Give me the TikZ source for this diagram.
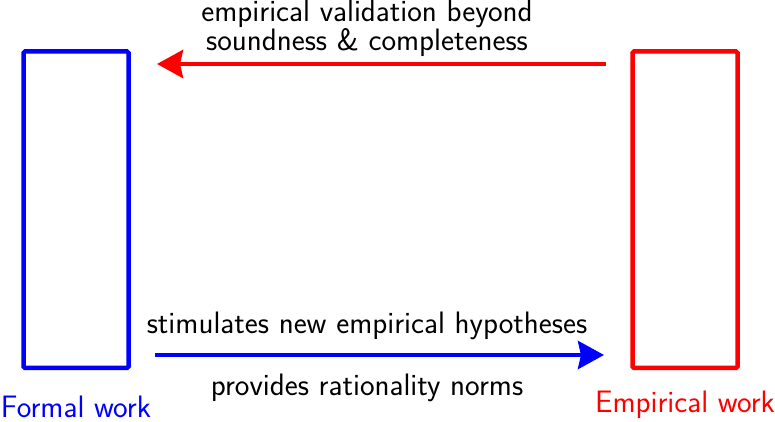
\documentclass[tikz,border=0pt]{standalone}
\usepackage{tikz}
\usetikzlibrary{arrows.meta}
\tikzset{
  workbox/.style = {rectangle, line width=4.5pt, rounded corners=1.5pt, outer sep=0pt,
                    minimum width=105pt, minimum height=316.5pt},
  flow/.style    = {line width=4.5pt, -{Stealth[length=26pt, width=28pt, inset=3pt]},
                    shorten <=26.5pt, shorten >=28.5pt},
  lbl/.style     = {font=\fontsize{31}{25}\selectfont\sffamily, align=center, inner sep=0pt},
}

\begin{document}
\begin{tikzpicture}[x=1pt, y=1pt]
    \useasboundingbox (0,0) rectangle (775,422);

    % ── The two kinds of work ───────────────────────────────────
    \node[workbox, draw=blue] (formal)    at (76, 212.25)  {};
    \node[workbox, draw=red]  (empirical) at (685, 212.25) {};

    \node[lbl, text=blue] (formallbl)    at (76, 15)  {Formal work};
    \node[lbl, text=red]  (empiricallbl) at (685, 17) {Empirical work};

    % ── Edges ───────────────────────────────────────────────────
    \draw[flow, red]  (empirical.west |- 0,358) -- (formal.east |- 0,358);
    \draw[flow, blue] (formal.east |- 0,67) -- (empirical.west |- 0,67);

    \node[lbl] (validation) at (367, 394) {empirical validation beyond\\soundness \& completeness};
    \node[lbl] (stimulates) at (367, 96) {stimulates new empirical hypotheses};
    \node[lbl] (norms)      at (367, 34) {provides rationality norms};
\end{tikzpicture}
\end{document}
